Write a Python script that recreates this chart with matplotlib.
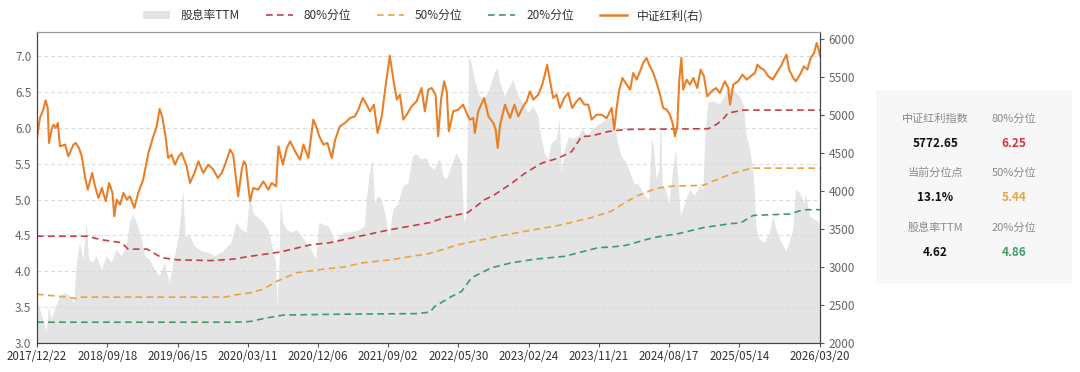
import matplotlib
matplotlib.use("Agg")
import matplotlib.pyplot as plt
import matplotlib.dates as mdates
from matplotlib.patches import Patch, FancyBboxPatch
from matplotlib.lines import Line2D
import pandas as pd

plt.rcParams['font.family'] = ['Noto Sans CJK SC', 'DejaVu Sans']

# 中证红利指数 (right axis)
index_dates = [
    "2017-12-22", "2018-01-02", "2018-01-15", "2018-01-24", "2018-02-01", "2018-02-06",
    "2018-02-16", "2018-02-23", "2018-03-04", "2018-03-12", "2018-03-20", "2018-04-09",
    "2018-04-21", "2018-05-11", "2018-05-20", "2018-06-01", "2018-06-12", "2018-06-24",
    "2018-07-05", "2018-07-22", "2018-08-02", "2018-08-15", "2018-08-28", "2018-09-12",
    "2018-09-25", "2018-10-08", "2018-10-15", "2018-10-24", "2018-11-06", "2018-11-19",
    "2018-12-02", "2018-12-14", "2018-12-31", "2019-01-15", "2019-02-03", "2019-02-23",
    "2019-03-14", "2019-03-27", "2019-04-07", "2019-04-17", "2019-04-30", "2019-05-10",
    "2019-05-23", "2019-06-05", "2019-06-20", "2019-07-01", "2019-07-20", "2019-08-02",
    "2019-08-19", "2019-09-03", "2019-09-22", "2019-10-11", "2019-10-31", "2019-11-17",
    "2019-12-02", "2019-12-17", "2020-01-03", "2020-01-15", "2020-02-03", "2020-02-17",
    "2020-02-25", "2020-03-04", "2020-03-13", "2020-03-20", "2020-04-01", "2020-04-20",
    "2020-05-10", "2020-05-29", "2020-06-11", "2020-06-28", "2020-07-07", "2020-07-24",
    "2020-08-08", "2020-08-21", "2020-09-09", "2020-09-28", "2020-10-11", "2020-10-30",
    "2020-11-18", "2020-11-29", "2020-12-11", "2020-12-27", "2021-01-11", "2021-01-28",
    "2021-02-10", "2021-02-28", "2021-03-20", "2021-04-08", "2021-04-27", "2021-05-10",
    "2021-05-27", "2021-06-11", "2021-06-24", "2021-07-09", "2021-07-23", "2021-08-08",
    "2021-08-21", "2021-09-08", "2021-09-22", "2021-10-05", "2021-10-17", "2021-10-30",
    "2021-11-12", "2021-12-01", "2021-12-20", "2022-01-08", "2022-01-21", "2022-02-03",
    "2022-02-16", "2022-03-03", "2022-03-13", "2022-03-24", "2022-04-05", "2022-04-15",
    "2022-04-23", "2022-05-10", "2022-05-29", "2022-06-17", "2022-06-30", "2022-07-13",
    "2022-07-26", "2022-08-01", "2022-08-14", "2022-09-06", "2022-09-22", "2022-10-11",
    "2022-10-20", "2022-10-28", "2022-11-06", "2022-11-25", "2022-12-14", "2022-12-31",
    "2023-01-15", "2023-02-03", "2023-02-16", "2023-03-01", "2023-03-14", "2023-04-02",
    "2023-04-17", "2023-04-27", "2023-05-06", "2023-05-16", "2023-05-29", "2023-06-11",
    "2023-06-24", "2023-07-11", "2023-07-26", "2023-08-10", "2023-08-27", "2023-09-09",
    "2023-09-26", "2023-10-11", "2023-10-24", "2023-11-12", "2023-12-01", "2023-12-21",
    "2024-01-09", "2024-01-19", "2024-01-28", "2024-02-06", "2024-02-19", "2024-03-07",
    "2024-03-20", "2024-04-01", "2024-04-14", "2024-04-27", "2024-05-09", "2024-05-22",
    "2024-06-04", "2024-06-17", "2024-06-30", "2024-07-13", "2024-07-25", "2024-08-07",
    "2024-08-20", "2024-08-30", "2024-09-08", "2024-09-17", "2024-09-25", "2024-10-03",
    "2024-10-10", "2024-10-23", "2024-11-05", "2024-11-18", "2024-12-03", "2024-12-16",
    "2024-12-29", "2025-01-10", "2025-01-27", "2025-02-13", "2025-02-28", "2025-03-19",
    "2025-04-01", "2025-04-08", "2025-04-20", "2025-05-09", "2025-05-26", "2025-06-11",
    "2025-06-26", "2025-07-13", "2025-07-22", "2025-08-04", "2025-08-16", "2025-09-02",
    "2025-09-19", "2025-10-04", "2025-10-20", "2025-11-01", "2025-11-11", "2025-11-21",
    "2025-12-07", "2025-12-17", "2026-01-02", "2026-01-17", "2026-01-30", "2026-02-12",
    "2026-02-25", "2026-03-07", "2026-03-15", "2026-03-20",
]
index_values = [
    4697, 4960, 5070, 5193, 5092, 4632,
    4807, 4873, 4829, 4895, 4588, 4610,
    4456, 4610, 4632, 4566, 4456, 4193,
    4018, 4237, 4061, 3908, 4040, 3864,
    4105, 3974, 3667, 3886, 3820, 3974,
    3886, 3930, 3777, 3974, 4149, 4500,
    4719, 4851, 5079, 4982, 4719, 4434,
    4478, 4347, 4456, 4500, 4325, 4105,
    4237, 4390, 4237, 4347, 4281, 4171,
    4237, 4368, 4544, 4478, 3930, 4281,
    4390, 4347, 4061, 3864, 4040, 4018,
    4127, 4018, 4105, 4061, 4588, 4347,
    4566, 4653, 4522, 4412, 4610, 4434,
    4939, 4851, 4719, 4610, 4632, 4434,
    4675, 4851, 4895, 4960, 4982, 5070,
    5224, 5136, 5048, 5136, 4763, 4982,
    5333, 5780, 5465, 5202, 5268, 4939,
    5004, 5114, 5180, 5355, 5048, 5333,
    5355, 5268, 4719, 5202, 5443, 5311,
    4785, 5048, 5070, 5136, 5026, 4939,
    4960, 4763, 5048, 5224, 4982, 4895,
    4807, 4566, 4873, 5136, 4960, 5136,
    4982, 5114, 5180, 5311, 5202, 5268,
    5399, 5531, 5662, 5465, 5224, 5268,
    5092, 5224, 5290, 5092, 5180, 5224,
    5136, 5136, 4939, 5004, 5004, 4960,
    5092, 4807, 5092, 5311, 5487, 5399,
    5333, 5553, 5465, 5575, 5684, 5750,
    5640, 5553, 5421, 5268, 5092, 5070,
    5004, 4895, 4719, 4851, 5465, 5750,
    5333, 5465, 5399, 5487, 5355, 5597,
    5509, 5246, 5311, 5355, 5290, 5443,
    5355, 5136, 5399, 5443, 5531, 5465,
    5509, 5553, 5662, 5618, 5597, 5509,
    5465, 5553, 5640, 5728, 5794, 5597,
    5487, 5443, 5531, 5640, 5597, 5750,
    5816, 5947, 5860, 5772.65,
]

# 股息率TTM (left axis, filled)
yield_dates = [
    "2017-12-22", "2018-01-02", "2018-01-15", "2018-01-28", "2018-02-06", "2018-02-16",
    "2018-03-01", "2018-03-20", "2018-04-09", "2018-04-28", "2018-05-14", "2018-05-23",
    "2018-06-05", "2018-06-18", "2018-07-01", "2018-07-10", "2018-07-26", "2018-08-08",
    "2018-08-28", "2018-09-16", "2018-10-05", "2018-10-24", "2018-11-12", "2018-12-02",
    "2018-12-14", "2018-12-27", "2019-01-09", "2019-01-26", "2019-02-10", "2019-03-01",
    "2019-03-20", "2019-04-08", "2019-04-27", "2019-05-16", "2019-06-05", "2019-06-20",
    "2019-06-28", "2019-07-07", "2019-07-16", "2019-08-02", "2019-08-21", "2019-09-16",
    "2019-10-11", "2019-11-06", "2019-12-02", "2019-12-21", "2020-01-09", "2020-01-28",
    "2020-02-17", "2020-03-07", "2020-03-17", "2020-03-23", "2020-04-04", "2020-04-20",
    "2020-05-10", "2020-05-29", "2020-06-17", "2020-06-28", "2020-07-03", "2020-07-11",
    "2020-07-16", "2020-07-24", "2020-08-08", "2020-08-27", "2020-09-15", "2020-10-04",
    "2020-10-23", "2020-11-12", "2020-11-29", "2020-12-11", "2020-12-27", "2021-01-15",
    "2021-01-28", "2021-02-10", "2021-02-28", "2021-03-20", "2021-04-08", "2021-04-27",
    "2021-05-16", "2021-06-04", "2021-06-13", "2021-06-24", "2021-07-04", "2021-07-13",
    "2021-07-26", "2021-08-08", "2021-08-21", "2021-09-06", "2021-09-22", "2021-10-11",
    "2021-10-30", "2021-11-18", "2021-12-07", "2021-12-20", "2022-01-08", "2022-01-28",
    "2022-02-09", "2022-02-28", "2022-03-20", "2022-04-01", "2022-04-15", "2022-05-04",
    "2022-05-23", "2022-06-11", "2022-06-21", "2022-06-30", "2022-07-10", "2022-07-19",
    "2022-08-01", "2022-08-20", "2022-09-08", "2022-09-27", "2022-10-16", "2022-10-28",
    "2022-11-06", "2022-11-25", "2022-12-14", "2022-12-27", "2023-01-15", "2023-02-03",
    "2023-02-22", "2023-03-14", "2023-04-02", "2023-04-15", "2023-04-27", "2023-05-10",
    "2023-05-23", "2023-06-11", "2023-06-24", "2023-07-01", "2023-07-13", "2023-07-29",
    "2023-08-14", "2023-09-02", "2023-09-21", "2023-10-11", "2023-10-24", "2023-11-12",
    "2023-12-01", "2023-12-21", "2024-01-09", "2024-01-24", "2024-02-03", "2024-02-16",
    "2024-03-07", "2024-03-20", "2024-04-08", "2024-04-20", "2024-05-03", "2024-05-15",
    "2024-06-01", "2024-06-11", "2024-06-19", "2024-06-30", "2024-07-10", "2024-07-16",
    "2024-07-23", "2024-08-05", "2024-08-17", "2024-09-02", "2024-09-12", "2024-09-21",
    "2024-10-01", "2024-10-17", "2024-11-05", "2024-11-24", "2024-12-13", "2024-12-26",
    "2025-01-05", "2025-01-14", "2025-02-03", "2025-02-28", "2025-03-19", "2025-04-08",
    "2025-04-27", "2025-05-16", "2025-06-01", "2025-06-11", "2025-06-24", "2025-07-06",
    "2025-07-13", "2025-07-19", "2025-08-01", "2025-08-20", "2025-09-08", "2025-09-21",
    "2025-10-04", "2025-10-23", "2025-11-11", "2025-11-23", "2025-12-07", "2025-12-17",
    "2026-01-02", "2026-01-17", "2026-01-25", "2026-02-09", "2026-02-28", "2026-03-17",
    "2026-03-20",
]
yield_values = [
    3.61, 3.47, 3.33, 3.16, 3.51, 3.33,
    3.47, 3.65, 3.70, 3.65, 3.56, 4.07,
    4.40, 4.16, 4.68, 4.16, 4.12, 4.21,
    4.02, 4.21, 4.12, 4.30, 4.21, 4.35,
    4.68, 4.79, 4.68, 4.49, 4.21, 4.16,
    4.02, 3.93, 4.12, 3.84, 4.21, 4.49,
    4.77, 5.16, 4.49, 4.49, 4.35, 4.28,
    4.26, 4.21, 4.26, 4.33, 4.40, 4.68,
    4.58, 4.54, 4.95, 4.98, 4.79, 4.75,
    4.68, 4.58, 4.30, 4.12, 3.51, 4.12,
    5.02, 4.68, 4.58, 4.54, 4.58, 4.49,
    4.40, 4.30, 4.16, 4.68, 4.65, 4.63,
    4.54, 4.40, 4.49, 4.54, 4.54, 4.56,
    4.58, 4.63, 5.05, 5.37, 5.56, 4.95,
    5.05, 5.00, 4.81, 4.49, 4.86, 4.95,
    5.19, 5.23, 5.61, 5.63, 5.56, 5.58,
    5.47, 5.42, 5.58, 5.33, 5.28, 5.47,
    5.65, 5.51, 4.68, 4.77, 7.00, 6.91,
    6.67, 6.44, 6.40, 6.54, 6.77, 6.84,
    6.63, 6.44, 6.58, 6.67, 6.44, 6.35,
    6.21, 6.30, 6.16, 5.84, 5.65, 5.56,
    5.79, 5.84, 6.12, 5.37, 5.70, 5.88,
    5.84, 5.88, 5.98, 5.88, 5.98, 6.02,
    6.07, 6.12, 6.14, 5.98, 5.79, 5.61,
    5.51, 5.37, 5.21, 5.23, 5.14, 5.05,
    5.00, 5.84, 5.74, 5.28, 5.42, 6.16,
    5.19, 5.14, 4.95, 5.42, 5.70, 5.28,
    4.77, 4.95, 5.14, 5.05, 5.19, 5.14,
    5.98, 6.35, 6.37, 6.33, 6.44, 6.56,
    6.51, 6.44, 6.30, 5.88, 5.70, 5.42,
    5.05, 4.58, 4.44, 4.40, 4.54, 4.77,
    4.58, 4.40, 4.28, 4.40, 4.58, 5.14,
    5.09, 4.95, 5.07, 4.77, 4.72, 4.68,
    4.62,
]

# rolling percentiles of the dividend yield
p80_dates = [
    "2017-12-22", "2018-07-01", "2018-08-28", "2018-11-12", "2018-12-07", "2019-02-18",
    "2019-04-15", "2019-06-16", "2019-10-24", "2020-01-14", "2020-03-20", "2020-07-14",
    "2020-11-07", "2021-01-21", "2021-05-28", "2021-09-08", "2022-02-09", "2022-04-07",
    "2022-07-05", "2022-09-08", "2022-10-16", "2022-12-21", "2023-02-10", "2023-04-15",
    "2023-06-18", "2023-08-08", "2023-09-15", "2023-10-24", "2023-12-26", "2024-02-29",
    "2025-01-14", "2025-02-15", "2025-03-11", "2025-04-01", "2025-05-29", "2026-03-20",
]
p80_values = [
    4.49, 4.49, 4.44, 4.40, 4.31, 4.31,
    4.19, 4.16, 4.15, 4.17, 4.21, 4.27,
    4.37, 4.40, 4.50, 4.58, 4.68, 4.75,
    4.82, 5.00, 5.07, 5.23, 5.37, 5.51,
    5.58, 5.67, 5.88, 5.89, 5.95, 5.98,
    5.99, 6.05, 6.12, 6.21, 6.25, 6.25,
]
p50_dates = [
    "2017-12-22", "2018-04-20", "2018-05-17", "2018-06-05", "2019-12-15", "2020-01-22",
    "2020-03-20", "2020-05-09", "2020-06-30", "2020-09-15", "2020-12-27", "2021-03-14",
    "2021-05-29", "2021-09-08", "2022-02-09", "2022-05-28", "2022-10-04", "2023-02-10",
    "2023-06-18", "2023-10-24", "2024-01-09", "2024-02-29", "2024-04-14", "2024-06-30",
    "2024-09-02", "2024-12-26", "2025-02-03", "2025-04-20", "2025-06-30", "2026-03-20",
]
p50_values = [
    3.68, 3.64, 3.62, 3.64, 3.64, 3.67,
    3.70, 3.75, 3.86, 3.98, 4.03, 4.06,
    4.12, 4.16, 4.25, 4.37, 4.47, 4.56,
    4.64, 4.75, 4.84, 4.96, 5.05, 5.16,
    5.19, 5.20, 5.26, 5.37, 5.44, 5.44,
]
p20_dates = [
    "2017-12-22", "2020-01-22", "2020-03-20", "2020-05-23", "2020-07-26", "2021-01-21",
    "2021-12-20", "2022-02-09", "2022-02-28", "2022-05-04", "2022-06-11", "2022-07-19",
    "2022-10-04", "2022-12-21", "2023-03-20", "2023-07-13", "2023-11-18", "2024-01-09",
    "2024-02-29", "2024-06-17", "2024-09-27", "2024-12-26", "2025-04-20", "2025-05-16",
    "2025-07-06", "2025-11-23", "2026-01-15", "2026-03-20",
]
p20_values = [
    3.29, 3.29, 3.30, 3.35, 3.39, 3.40,
    3.41, 3.43, 3.51, 3.65, 3.72, 3.91,
    4.05, 4.12, 4.17, 4.21, 4.33, 4.34,
    4.36, 4.47, 4.53, 4.61, 4.67, 4.67,
    4.78, 4.80, 4.86, 4.86,
]

tick_dates = ["2017-12-22", "2018-09-18", "2019-06-15", "2020-03-11", "2020-12-06",
              "2021-09-02", "2022-05-30", "2023-02-24", "2023-11-21", "2024-08-17",
              "2025-05-14", "2026-03-20"]

panel_labels = [["中证红利指数", "80%分位"], ["当前分位点", "50%分位"], ["股息率TTM", "20%分位"]]
panel_values = [["5772.65", "6.25"], ["13.1%", "5.44"], ["4.62", "4.86"]]

C_IDX = "#E8802A"
C_80 = "#C63E45"
C_50 = "#E9A443"
C_20 = "#3E9B66"
C_FILL = "#E4E4E4"
dash = (0, (4, 2.6))

fig = plt.figure(figsize=(10.8, 3.72), dpi=100)
ax = fig.add_axes([0.0343, 0.078, 0.7250, 0.836])
ax2 = ax.twinx()

yd = pd.to_datetime(yield_dates)
ax.fill_between(yd, yield_values, 0, color=C_FILL, lw=0, zorder=1)
ax.plot(pd.to_datetime(p80_dates), p80_values, color=C_80, lw=1.2, ls=dash, zorder=3)
ax.plot(pd.to_datetime(p50_dates), p50_values, color=C_50, lw=1.2, ls=dash, zorder=3)
ax.plot(pd.to_datetime(p20_dates), p20_values, color=C_20, lw=1.2, ls=dash, zorder=3)
ax2.plot(pd.to_datetime(index_dates), index_values, color=C_IDX, lw=1.5)

ax.set_ylim(3.0, 7.34)
ax.set_yticks([3.0, 3.5, 4.0, 4.5, 5.0, 5.5, 6.0, 6.5, 7.0])
ax.yaxis.set_major_formatter(matplotlib.ticker.FormatStrFormatter("%.1f"))
ax2.set_ylim(2000, 6092)
ax2.set_yticks(range(2000, 6001, 500))

start, end = pd.Timestamp("2017-12-22"), pd.Timestamp("2026-03-20")
ax.set_xlim(start, end)
ax.set_xticks(pd.to_datetime(tick_dates))
ax.xaxis.set_major_formatter(mdates.DateFormatter("%Y/%m/%d"))

ax.grid(axis="y", color="#D8D8D8", ls=(0, (4, 3)), lw=0.7, zorder=2)
ax.set_axisbelow(False)
ax.tick_params(axis="y", length=0, labelsize=8.5, labelcolor="#666666", pad=4)
ax.tick_params(axis="x", length=3, color="#555555", labelsize=8.3, labelcolor="#333333", pad=2)
ax2.tick_params(axis="y", length=3, color="#555555", labelsize=8.5, labelcolor="#666666", pad=3)
for a in (ax, ax2):
    a.spines["left"].set_color("#444444")
    a.spines["right"].set_color("#444444")
    a.spines["bottom"].set_color("#444444")
    a.spines["top"].set_color("#999999")

handles = [
    Patch(facecolor=C_FILL, edgecolor="none"),
    Line2D([], [], color=C_80, lw=1.2, ls=dash),
    Line2D([], [], color=C_50, lw=1.2, ls=dash),
    Line2D([], [], color=C_20, lw=1.2, ls=dash),
    Line2D([], [], color=C_IDX, lw=1.8),
]
labels = ["股息率TTM", "80%分位", "50%分位", "20%分位", "中证红利(右)"]
fig.legend(handles, labels, loc="center", bbox_to_anchor=(0.392, 0.958), ncol=5,
           frameon=False, fontsize=8.5, handlelength=2.3, handleheight=0.7,
           columnspacing=2.2, handletextpad=0.9, labelcolor="#333333")

# summary panel on the right
fig.patches.append(FancyBboxPatch((0.811, 0.237), 0.182, 0.520, boxstyle="square,pad=0",
                                  transform=fig.transFigure, facecolor="#F7F7F7",
                                  edgecolor="none"))
col_x = [0.866, 0.939]
row_y = [(0.680, 0.615), (0.535, 0.468), (0.387, 0.320)]
value_colors = [["#111111", "#D0393E"], ["#111111", "#E9A443"], ["#111111", "#3E9B66"]]
for r, (ly, vy) in enumerate(row_y):
    for c in range(2):
        fig.text(col_x[c], ly, panel_labels[r][c], ha="center", va="center",
                 fontsize=8, color="#8A8A8A")
        fig.text(col_x[c], vy, panel_values[r][c], ha="center", va="center",
                 fontsize=8.5, color=value_colors[r][c], fontweight="bold")

fig.savefig("out.png", dpi=100)
